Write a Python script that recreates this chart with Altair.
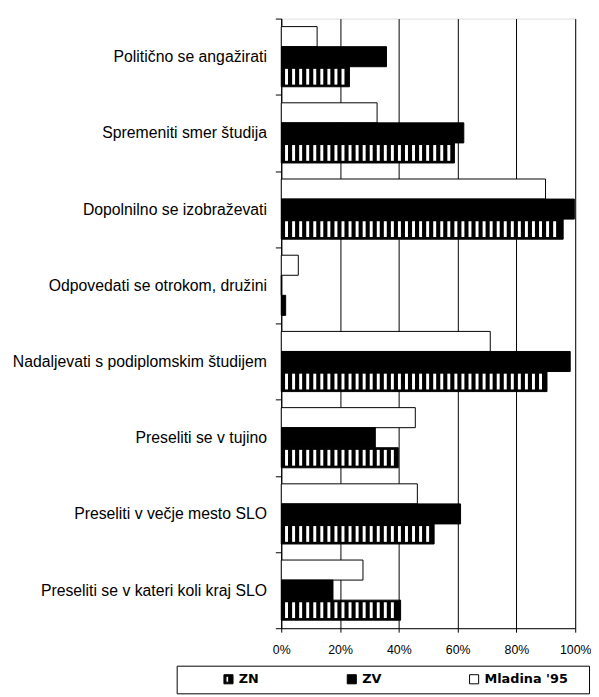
import altair as alt
import pandas as pd

categories = [
    "Politično se angažirati",
    "Spremeniti smer študija",
    "Dopolnilno se izobraževati",
    "Odpovedati se otrokom, družini",
    "Nadaljevati s podiplomskim študijem",
    "Preseliti se v tujino",
    "Preseliti v večje mesto SLO",
    "Preseliti se v kateri koli kraj SLO",
]
mladina = [12.2, 32.6, 89.9, 5.8, 71.1, 45.6, 46.3, 27.8]
zv = [35.8, 62.1, 99.7, 0.0, 98.3, 32.0, 61.0, 17.6]
zn = [23.2, 58.9, 95.9, 1.5, 90.4, 39.8, 52.0, 40.6]
legend_order = ["ZN", "ZV", "Mladina '95"]
offset_order = ["Mladina '95", "ZV", "ZN"]
x_ticks = [0, 20, 40, 60, 80, 100]

rows = []
for i, c in enumerate(categories):
    rows.append({"cat": c, "series": "Mladina '95", "value": mladina[i]})
    rows.append({"cat": c, "series": "ZV", "value": zv[i]})
    rows.append({"cat": c, "series": "ZN", "value": zn[i]})
df = pd.DataFrame(rows)
df_zn = df[df["series"] == "ZN"].reset_index(drop=True)

FONT = "Liberation Sans"
LEG_FONT = "DejaVu Sans"

y_axis = alt.Axis(
    title=None, tickBand="extent", labelFontSize=16, labelLimit=0,
    labelPadding=9, tickSize=6, domainColor="black", tickColor="black",
    labelColor="black", grid=False, labelFont=FONT, domainWidth=1,
)
x_axis = alt.Axis(
    title=None, values=x_ticks, labelExpr="datum.value + '%'", grid=True,
    gridColor="black", gridWidth=1, gridOpacity=1, tickSize=4,
    labelFontSize=12.5, labelPadding=12, labelFlush=False,
    domainColor="black", tickColor="black", labelColor="black",
    labelFont=FONT, domainWidth=1,
)

y_scale = alt.Scale(paddingInner=0, paddingOuter=0)
yoff_scale = alt.Scale(domain=offset_order, paddingInner=0, paddingOuter=0.4)
x_scale = alt.Scale(domain=[0, 100])

zn_path = "M-1,-1H1V1H-1Z M-0.55,-0.65V0.65H0.05V-0.65Z"

# a little trailing room (kept by a zero-width joiner) widens the legend frame
pad_tail = "\u00a0" * 3 + "\u200d"

leg = alt.Legend(
    title="\u00a0", titleOrient="left", titlePadding=39,
    orient="none", legendX=-106, legendY=656, direction="horizontal",
    columns=3, gridAlign="each", columnPadding=86,
    strokeColor="black", padding=7,
    labelFont=LEG_FONT, labelFontSize=13, labelFontWeight="bold",
    labelColor="black", labelOffset=4, symbolSize=85, labelLimit=0,
    symbolStrokeColor="black", symbolStrokeWidth=1,
    labelExpr="datum.value === \"Mladina '95\" ? datum.label + '" + pad_tail + "' : datum.label",
)

color = alt.Color(
    "series:N",
    scale=alt.Scale(domain=legend_order, range=["black", "black", "white"]),
    legend=leg,
)

bars = alt.Chart(df).mark_bar(stroke="black", strokeWidth=1).encode(
    x=alt.X("value:Q", scale=x_scale, axis=x_axis),
    y=alt.Y("cat:N", sort=categories, scale=y_scale, axis=y_axis),
    yOffset=alt.YOffset("series:N", sort=offset_order, scale=yoff_scale),
    color=color,
)

stripes = (
    alt.Chart(df_zn)
    .transform_calculate(s="sequence(1.8, datum.value - 1.3, 2.4)")
    .transform_flatten(["s"])
    .mark_tick(color="white", thickness=3, size=16, opacity=1)
    .encode(
        x=alt.X("s:Q", scale=x_scale, axis=x_axis),
        y=alt.Y("cat:N", sort=categories, scale=y_scale, axis=y_axis),
        yOffset=alt.YOffset("series:N", sort=offset_order, scale=yoff_scale),
    )
)

legend_shapes = alt.Chart(df).mark_point(filled=True, opacity=1).encode(
    x=alt.value(-300),
    y=alt.value(-300),
    shape=alt.Shape(
        "series:N",
        scale=alt.Scale(domain=legend_order, range=[zn_path, "square", "square"]),
        legend=leg,
    ),
    color=color,
)

chart = (
    alt.layer(bars, stripes, legend_shapes)
    .properties(
        width=298,
        height=618,
        autosize=alt.AutoSizeParams(type="none"),
        padding={"left": 277, "top": 6, "right": 16, "bottom": 65},
    )
    .configure_view(stroke=None)
    .configure(font=FONT)
)

chart.save("out.html", embed_options={"renderer": "svg", "actions": False})
